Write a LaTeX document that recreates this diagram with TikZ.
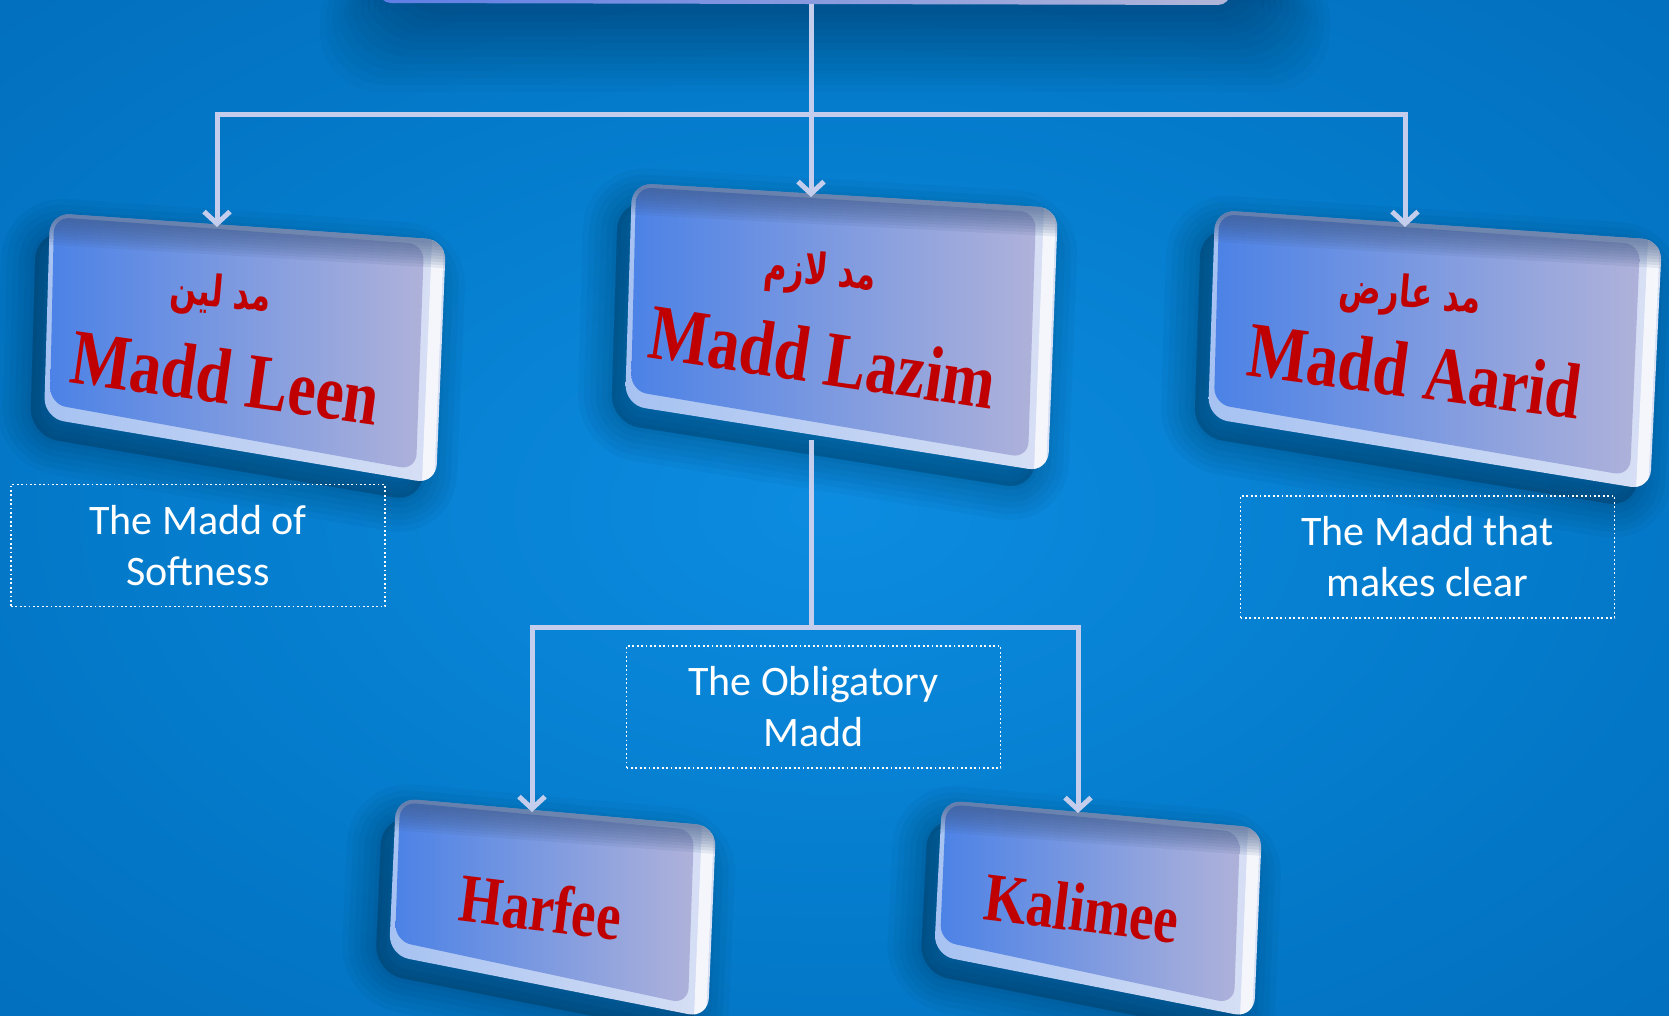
\documentclass[tikz,border=0pt]{standalone}
\usepackage{fontspec}
\usepackage{graphicx}
\setmainfont{Liberation Serif}
\newfontfamily\calib{Carlito}
\newfontfamily\arabicfont[Script=Arabic]{DejaVu Sans}
\TeXXeTstate=1
\usetikzlibrary{calc,arrows.meta}

\definecolor{bgIn}{HTML}{0C8CE0}
\definecolor{bgMid}{HTML}{047ACA}
\definecolor{bgOut}{HTML}{0064B0}
\definecolor{faceL}{HTML}{4C82E6}
\definecolor{faceR}{HTML}{AFB2DA}
\definecolor{rimL}{HTML}{A6C2F2}
\definecolor{rimR}{HTML}{D8E0F4}
\definecolor{topBand}{HTML}{3F5A88}
\definecolor{maddRed}{HTML}{C00000}
\definecolor{linkCol}{HTML}{C4CEEC}
\definecolor{topL}{HTML}{5E7EE6}
\definecolor{topR}{HTML}{B2B6D8}

\pgfdeclareradialshading{bgshade}{\pgfpoint{0bp}{0bp}}{color(0bp)=(bgIn); color(22bp)=(bgMid); color(50bp)=(bgOut); color(72bp)=(bgOut)}

\newcommand{\slab}[1]{%
  \foreach \lw in {34,28,22,16,10,4}{%
    \filldraw[black, opacity=0.03, line width=\lw pt, rounded corners=14pt, line join=round]
      ($(#1A)+(-14,18)$) -- ($(#1B)+(-14,18)$) -- ($(#1C)+(-14,18)$) -- ($(#1D)+(-14,18)$) -- cycle;
  }%
  \begin{scope}
    \clip[rounded corners=10pt] (#1A) -- (#1B) -- (#1C) -- (#1D) -- cycle;
    \shade[left color=rimL, right color=rimR] (#1A) -- (#1B) -- (#1C) -- (#1D) -- cycle;
    \draw[white, opacity=0.75, line width=6pt] ($(#1B)+(-8,0)$) -- ($(#1C)+(-8,0)$);
    \shade[left color=faceL, right color=faceR, rounded corners=8pt]
      ($(#1A)+(4,4)$) -- ($(#1B)+(-22,4)$) -- ($(#1C)+(-20,-14)$) -- ($(#1D)+(6,-14)$) -- cycle;
    \foreach \w in {30,27,24,21,18,15,12,9,6}{%
      \draw[topBand, opacity=0.1, line width=\w pt] ($(#1A)+(-30,0)$) -- ($(#1B)+(30,0)$);
    }
  \end{scope}
}

\newcommand{\redlabel}[6]{%
  \node[redtxt, rotate=#4, font=\fontsize{#5}{#5}\selectfont\bfseries] (#1) at (#2,#3) {\scalebox{1}[1.25]{#6}};
}
\newcommand{\arlabel}[6]{%
  \node[redtxt, rotate=#4, font=\arabicfont\fontsize{#5}{#5}\selectfont\bfseries] (#1) at (#2,#3) {\scalebox{0.82}[1.15]{#6}};
}

\begin{document}
\begin{tikzpicture}[x=0.5pt,y=-0.5pt,
  link/.style={draw=linkCol, line width=2.5pt},
  linkarrow/.style={link, -{Straight Barb[length=6pt,width=13pt]}},
  notebox/.style={draw=white, line width=0.75pt, dash pattern=on 0.9pt off 1.3pt, text=white, align=center, font=\calib\fontsize{21}{25.5}\selectfont, minimum width=187pt, minimum height=61pt, inner sep=0pt},
  redtxt/.style={text=maddRed, inner sep=0pt},
]
\useasboundingbox (0,0) rectangle (1669,1016);
\shade[shading=bgshade] (0,0) rectangle (1669,1016);

% soft shadow under the top box
\foreach \i in {0,...,11}{%
  \fill[black, opacity=0.022, rounded corners=30pt] (320+\i*6,-40) rectangle (1330-\i*6,92-\i*7);
}
% top box (cut off by the edge)
\shade[left color=topL, right color=topR, rounded corners=6pt] (377,-40) -- (1232,-40) -- (1230,5) -- (379,3) -- cycle;
\coordinate (topOut) at (811,4);

% slabs
\coordinate (leenA) at (50,213);   \coordinate (leenB) at (446,240);
\coordinate (leenC) at (436,484);  \coordinate (leenD) at (44,418);
\coordinate (lazimA) at (632,183); \coordinate (lazimB) at (1058,208);
\coordinate (lazimC) at (1048,472);\coordinate (lazimD) at (625,405);
\coordinate (aaridA) at (1215,210);\coordinate (aaridB) at (1662,240);
\coordinate (aaridC) at (1650,490);\coordinate (aaridD) at (1208,418);
\coordinate (harfeeA) at (396,798);\coordinate (harfeeB) at (716,826);
\coordinate (harfeeC) at (708,1018);\coordinate (harfeeD) at (389,955);
\coordinate (kalimeeA) at (942,800);\coordinate (kalimeeB) at (1262,828);
\coordinate (kalimeeC) at (1254,1018);\coordinate (kalimeeD) at (934,955);

\slab{leen}
\slab{lazim}
\slab{aarid}
\slab{harfee}
\slab{kalimee}

% connectors
\coordinate (j1) at (811,115);
\coordinate (leenIn) at (217,227);
\coordinate (lazimIn) at (811,197);
\coordinate (aaridIn) at (1405,227);
\coordinate (lazimOut) at (811,440);
\coordinate (j2) at (811,627);
\coordinate (harfeeIn) at (532,812);
\coordinate (kalimeeIn) at (1078,813);

\draw[link] (topOut) -- (j1);
\draw[linkarrow] (j1) -| (leenIn);
\draw[linkarrow] (j1) -- (lazimIn);
\draw[linkarrow] (j1) -| (aaridIn);
\draw[link] (lazimOut) -- (j2);
\draw[linkarrow] (j2) -| (harfeeIn);
\draw[linkarrow] (j2) -| (kalimeeIn);

% labels on slabs
\arlabel{leenAr}{221}{296}{-5}{19}{\beginR مد لين\endR}
\redlabel{leenTxt}{226}{377}{-8}{31.5}{Madd Leen}
\arlabel{lazimAr}{820}{274}{-5}{19}{\beginR مد لازم\endR}
\redlabel{lazimTxt}{823}{357}{-8.5}{31.5}{Madd Lazim}
\arlabel{aaridAr}{1410}{296}{-5}{19}{\beginR مد عارض\endR}
\redlabel{aaridTxt}{1415}{371}{-7.5}{31.5}{Madd Aarid}
\redlabel{harfeeTxt}{541}{907}{-7}{27.5}{Harfee}
\redlabel{kalimeeTxt}{1082}{908}{-7}{27.5}{Kalimee}

% notes
\node[notebox] (leenNote) at (198,545.5) {The Madd of\\Softness};
\node[notebox] (aaridNote) at (1427.5,557) {The Madd that\\makes clear};
\node[notebox] (lazimNote) at (813.5,707) {The Obligatory\\Madd};
\end{tikzpicture}
\end{document}
